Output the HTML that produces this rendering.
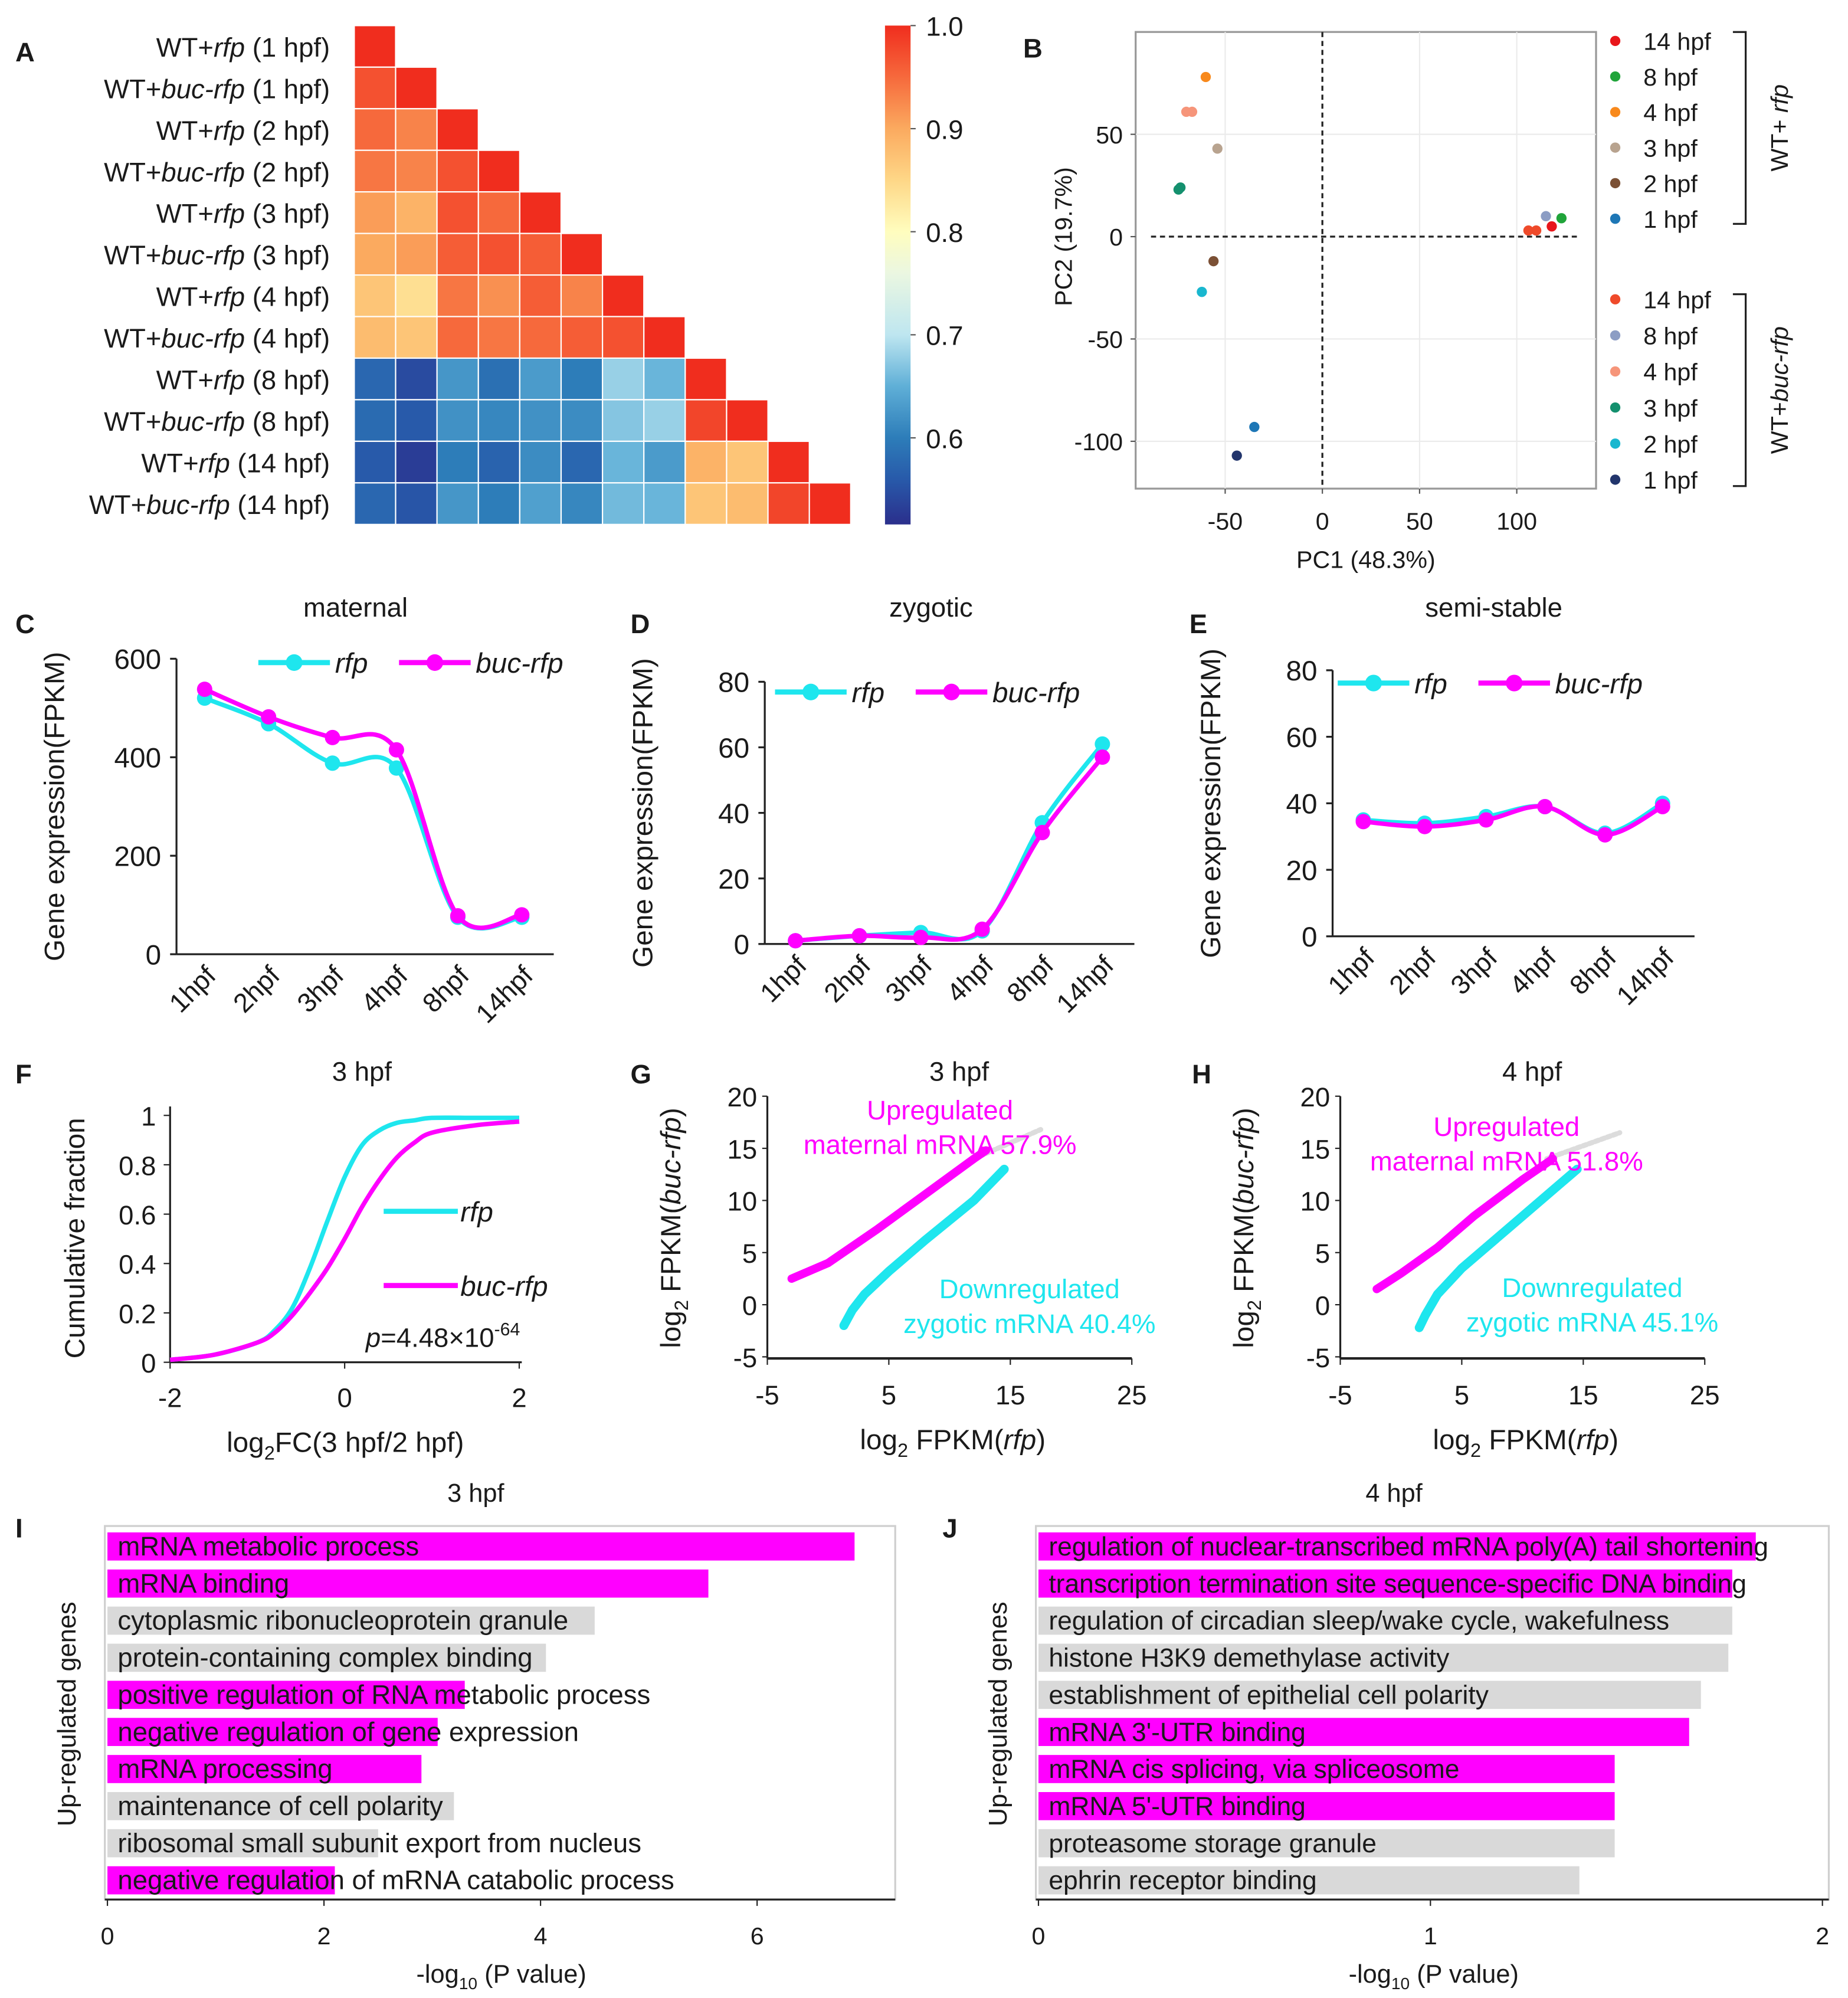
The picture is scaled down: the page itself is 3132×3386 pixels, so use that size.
<!DOCTYPE html>
<html><head><meta charset="utf-8">
<style>
html,body{margin:0;padding:0;background:#fff;}
svg{display:block;}
text{font-family:"Liberation Sans Narrow","Liberation Sans",sans-serif;fill:#1a1a1a;}
.lbl{font-family:"Liberation Sans",sans-serif;font-weight:bold;font-size:21px;}
.it{font-style:italic;}
</style></head>
<body>
<svg id="fig" width="3132" height="3386" viewBox="0 0 1445 1562" preserveAspectRatio="none" xmlns="http://www.w3.org/2000/svg">
<g id="gA"></g>
<g id="gB"></g>
<g id="gC"></g>
<g id="gD"></g>
<g id="gE"></g>
<g id="gF"></g>
<g id="gG"></g>
<g id="gH"></g>
<g id="gI"></g>
<g id="gJ"></g>
</svg>
<script>
// ---------- data ----------
const heatRows = ["WT+|rfp| (1 hpf)","WT+|buc-rfp| (1 hpf)","WT+|rfp| (2 hpf)","WT+|buc-rfp| (2 hpf)","WT+|rfp| (3 hpf)","WT+|buc-rfp| (3 hpf)","WT+|rfp| (4 hpf)","WT+|buc-rfp| (4 hpf)","WT+|rfp| (8 hpf)","WT+|buc-rfp| (8 hpf)","WT+|rfp| (14 hpf)","WT+|buc-rfp| (14 hpf)"];
const heatVals = [
 [1],
 [0.97,1],
 [0.95,0.93,1],
 [0.94,0.93,0.97,1],
 [0.91,0.89,0.97,0.95,1],
 [0.9,0.91,0.96,0.97,0.96,1],
 [0.87,0.84,0.94,0.92,0.96,0.93,1],
 [0.88,0.87,0.95,0.94,0.95,0.96,0.97,1],
 [0.575,0.545,0.625,0.585,0.63,0.6,0.68,0.655,1],
 [0.58,0.56,0.62,0.61,0.62,0.615,0.67,0.68,0.98,1],
 [0.56,0.53,0.6,0.57,0.615,0.575,0.655,0.63,0.89,0.87,1],
 [0.575,0.555,0.625,0.6,0.635,0.61,0.66,0.655,0.87,0.88,0.98,1]
];
const cbTicks = [1.0,0.9,0.8,0.7,0.6];

const pcaLabels = ["14 hpf","8 hpf","4 hpf","3 hpf","2 hpf","1 hpf"];
const pcaRfpColors = ["#e8161b","#20a43a","#f8891c","#b8a38f","#7b5035","#1e77b6"];
const pcaBucColors = ["#ef4a2a","#8c9dc4","#f6957a","#14906e","#19b7cf","#22356c"];
const pcaRfpX = [118,123,-60,-54,-56,-35];
const pcaRfpY = [5,9,78,43,-12,-93];
const pcaBucX = [106,115,-70,-74,-62,-44];
const pcaBucY = [3,10,61,23,-27,-107];
const pcaBucX2 = [110,null,-67,-73,null,null];
const pcaBucY2 = [3,null,61,24,null,null];

const timeCats = ["1hpf","2hpf","3hpf","4hpf","8hpf","14hpf"];
const matRfp = [520,468,388,378,75,75];
const matBuc = [538,482,440,415,78,80];
const zygRfp = [1,2.5,3.5,4,37,61];
const zygBuc = [1,2.5,2,4.5,34,57];
const semRfp = [35,34,36,39,31,40];
const semBuc = [34.5,33,35,39,30.5,39];

const cdfX = [-2,-1.5,-1,-0.8,-0.6,-0.4,-0.2,0,0.2,0.4,0.6,0.8,1,1.5,2];
const cdfRfp = [0.01,0.03,0.08,0.13,0.22,0.38,0.57,0.75,0.88,0.94,0.97,0.98,0.99,0.99,0.99];
const cdfBuc = [0.01,0.03,0.08,0.12,0.19,0.28,0.38,0.5,0.63,0.74,0.83,0.89,0.93,0.96,0.975];

const gMagX=[-3,0,4,8,12,13], gMagY=[2.5,4,7.2,10.6,14,14.8];
const gCyaX=[1.3,2,3,5,8,12,14.5], gCyaY=[-2,-0.5,1,3.2,6.2,10,13];
const gGrayX=[12,17.5], gGrayY=[14,16.8];
const hMagX=[-2,0,3,6,10,12.5], hMagY=[1.5,3,5.5,8.5,12,14];
const hCyaX=[1.5,2,3,5,9,13,14.5], hCyaY=[-2.2,-1,1,3.5,7.5,11.5,13];
const hGrayX=[12,18], hGrayY=[14,16.5];

const goI = ["mRNA  metabolic  process","mRNA  binding","cytoplasmic  ribonucleoprotein  granule","protein-containing  complex  binding","positive  regulation  of RNA  metabolic  process","negative  regulation  of gene  expression","mRNA  processing","maintenance  of cell polarity","ribosomal  small  subunit  export  from nucleus","negative  regulation  of mRNA  catabolic  process"];
const goIVals = [6.9,5.55,4.5,4.05,3.3,3.05,2.9,3.2,2.5,2.1];
const goIUp = [1,1,0,0,1,1,1,0,0,1];
const goJ = ["regulation  of nuclear-transcribed  mRNA  poly(A) tail shortening","transcription  termination  site  sequence-specific  DNA  binding","regulation  of circadian  sleep/wake  cycle, wakefulness","histone  H3K9  demethylase  activity","establishment  of epithelial  cell polarity","mRNA  3'-UTR  binding","mRNA  cis splicing, via spliceosome","mRNA  5'-UTR  binding","proteasome  storage  granule","ephrin  receptor  binding"];
const goJVals = [1.83,1.77,1.77,1.76,1.69,1.66,1.47,1.47,1.47,1.38];
const goJUp = [1,1,0,0,0,1,1,1,0,0];

// ---------- helpers ----------
const NS="http://www.w3.org/2000/svg";
function mk(tag,attrs,parent){const e=document.createElementNS(NS,tag);for(const k in attrs)e.setAttribute(k,attrs[k]);parent.appendChild(e);return e;}
function tx(parent,x,y,s,size,anchor,extra){const e=mk('text',Object.assign({x:x,y:y,'font-size':size,'text-anchor':anchor||'start'},extra||{}),parent);e.textContent=s;return e;}
function mixed(parent,x,y,str,size,anchor){
  const e=mk('text',{x:x,y:y,'font-size':size,'text-anchor':anchor||'start'},parent);
  str.split('|').forEach((p,i)=>{const t=mk('tspan',i%2?{'font-style':'italic'}:{},e);t.textContent=p;});
  return e;}
function smooth(pts){let d=`M${pts[0][0]},${pts[0][1]}`;for(let i=0;i<pts.length-1;i++){const p0=pts[i-1]||pts[i],p1=pts[i],p2=pts[i+1],p3=pts[i+2]||p2;const c1=[p1[0]+(p2[0]-p0[0])/6,p1[1]+(p2[1]-p0[1])/6],c2=[p2[0]-(p3[0]-p1[0])/6,p2[1]-(p3[1]-p1[1])/6];d+=`C${c1[0]},${c1[1]} ${c2[0]},${c2[1]} ${p2[0]},${p2[1]}`;}return d;}
function lin(d0,d1,r0,r1){return v=>r0+(v-d0)*(r1-r0)/(d1-d0);}
function panelLabel(s,x,y){const e=tx(document.getElementById('fig'),x,y,s,21,'start',{class:'lbl'});

}
const MAG="#ff00ff", CYA="#1ee6ee";

// ---------- color map ----------
const cmStops=[[0.516,[43,47,140]],[0.56,[40,90,170]],[0.6,[45,125,185]],[0.65,[95,175,215]],[0.7,[190,230,240]],[0.76,[235,247,225]],[0.8,[255,253,190]],[0.85,[254,215,135]],[0.9,[251,170,95]],[0.95,[246,105,60]],[1.0,[240,45,30]]];
function cmap(v){for(let i=0;i<cmStops.length-1;i++){const a=cmStops[i],b=cmStops[i+1];if(v<=b[0]){const t=Math.max(0,(v-a[0])/(b[0]-a[0]));return 'rgb('+a[1].map((c,j)=>Math.round(c+t*(b[1][j]-c))).join(',')+')';}}return 'rgb(240,45,30)';}

// ---------- Panel A ----------
(function(){
 const g=document.getElementById('gA');const x0=277,y0=20,cw=32.35,ch=32.5;
 heatRows.forEach((r,i)=>{
  const t=mixed(g,258,y0+ch*i+ch/2+8,r,21,'end');
  
  
  heatVals[i].forEach((v,j)=>{
   const c=mk('rect',{x:x0+cw*j,y:y0+ch*i,width:cw,height:ch,fill:cmap(v),stroke:'#fff','stroke-width':1},g);
   
   
  });
 });
 const defs=mk('defs',{},g);const lg=mk('linearGradient',{id:'cbg',x1:0,y1:1,x2:0,y2:0},defs);
 cmStops.forEach(s=>mk('stop',{offset:((s[0]-0.516)/(1-0.516)).toFixed(3),'stop-color':'rgb('+s[1].join(',')+')'},lg));
 const cb=mk('rect',{x:692,y:20,width:20,height:390,fill:'url(#cbg)'},g);
 
 
 const cy=lin(0.516,1,410,20);
 cbTicks.forEach(v=>{
  mk('line',{x1:712,x2:716,y1:cy(v),y2:cy(v),stroke:'#555'},g);
  const t=tx(g,724,cy(v)+8,v.toFixed(1),21);
  
  
 });
})();
panelLabel('A',12,48);

// ---------- Panel B ----------
(function(){
 const g=document.getElementById('gB');const X=lin(0,50,1034,1110),Y=lin(0,50,185,105);
 const fr=mk('rect',{x:888,y:25,width:360,height:357,fill:'#fff',stroke:'#999','stroke-width':1.5},g);
 
 
 [-50,50,100].forEach(v=>mk('line',{x1:X(v),x2:X(v),y1:25,y2:382,stroke:'#ebebeb'},g));
 [50,-50,-100].forEach(v=>mk('line',{x1:888,x2:1248,y1:Y(v),y2:Y(v),stroke:'#ebebeb'},g));
 mk('line',{x1:X(0),x2:X(0),y1:25,y2:382,stroke:'#222','stroke-dasharray':'4,3','stroke-width':1.5},g);
 mk('line',{x1:900,x2:1236,y1:Y(0),y2:Y(0),stroke:'#222','stroke-dasharray':'4,3','stroke-width':1.5},g);
 [-50,0,50,100].forEach(v=>{mk('line',{x1:X(v),x2:X(v),y1:382,y2:386,stroke:'#555'},g);
  const t=tx(g,X(v),414,String(v),19,'middle');
  
  });
 [50,0,-50,-100].forEach(v=>{mk('line',{x1:884,x2:888,y1:Y(v),y2:Y(v),stroke:'#555'},g);
  const t=tx(g,878,Y(v)+7,String(v),19,'end');
  
  });
 const xt=tx(g,1068,444,'PC1 (48.3%)',19,'middle');
 
 
 const yt=tx(g,0,0,'PC2 (19.7%)',19,'middle',{transform:'translate(838,185) rotate(-90)'});
 
 
 pcaLabels.forEach((l,i)=>{
  const p=mk('circle',{cx:X(pcaRfpX[i]),cy:Y(pcaRfpY[i]),r:4,fill:pcaRfpColors[i]},g);
  
  
  const q=mk('circle',{cx:X(pcaBucX[i]),cy:Y(pcaBucY[i]),r:4,fill:pcaBucColors[i]},g);
  
  
  if(pcaBucX2[i]!==null){const r=mk('circle',{cx:X(pcaBucX2[i]),cy:Y(pcaBucY2[i]),r:4,fill:pcaBucColors[i]},g);
   
   }
  const yl=32+i*27.8, yl2=234+i*28.2;
  const d1=mk('circle',{cx:1263,cy:yl,r:4,fill:pcaRfpColors[i]},g);
  
  
  const t1=tx(g,1285,yl+7,l,19);
  
  
  const d2=mk('circle',{cx:1263,cy:yl2,r:4,fill:pcaBucColors[i]},g);
  
  
  const t2=tx(g,1285,yl2+7,l,19);
  
  
 });
 mk('path',{d:'M1355,25 H1365 V175 H1355',fill:'none',stroke:'#222','stroke-width':1.5},g);
 mk('path',{d:'M1355,230 H1365 V380 H1355',fill:'none',stroke:'#222','stroke-width':1.5},g);
 const b1=mixed(g,0,0,'WT+ |rfp|',19,'middle');b1.setAttribute('transform','translate(1398,100) rotate(-90)');
 
 
 const b2=mixed(g,0,0,'WT+|buc-rfp|',19,'middle');b2.setAttribute('transform','translate(1398,305) rotate(-90)');
 
 
})();
panelLabel('B',800,45);

// ---------- line panels C D E ----------
function linePanel(g,title,titleX,axX,yTop,yBot,ymax,yticks,catX,rfp,buc,legY,legX){
 const Y=lin(0,ymax,yBot,yTop);
 const tt=tx(g,titleX,482,title,21,'middle');
 
 
 mk('line',{x1:axX,x2:axX,y1:yTop,y2:yBot,stroke:'#222','stroke-width':1.5},g);
 mk('line',{x1:axX,x2:catX[catX.length-1]+25,y1:yBot,y2:yBot,stroke:'#222','stroke-width':1.5},g);
 yticks.forEach(v=>{mk('line',{x1:axX-5,x2:axX,y1:Y(v),y2:Y(v),stroke:'#222','stroke-width':1.5},g);
  const t=tx(g,axX-12,Y(v)+8,String(v),22,'end');
  
  });
 timeCats.forEach((c,i)=>{const t=tx(g,0,0,c,21,'end',{transform:`translate(${catX[i]+10},${yBot+18}) rotate(-45)`});
  
  });
 const yt=tx(g,0,0,'Gene expression(FPKM)',22,'middle',{transform:`translate(${axX-88},${(yTop+yBot)/2}) rotate(-90)`});
 
 
 [[rfp,CYA,'rfp'],[buc,MAG,'buc-rfp']].forEach(([arr,col,nm])=>{
  const pts=arr.map((v,i)=>[catX[i],Y(v)]);
  const l=mk('path',{d:smooth(pts),fill:'none',stroke:col,'stroke-width':3.5},g);
  
  
  pts.forEach(p=>{const c=mk('circle',{cx:p[0],cy:p[1],r:6,fill:col},g);
   
   });
 });
 [[CYA,'rfp',legX[0]],[MAG,'buc-rfp',legX[1]]].forEach(([col,nm,lx])=>{
  mk('line',{x1:lx,x2:lx+56,y1:legY,y2:legY,stroke:col,'stroke-width':4},g);
  const c=mk('circle',{cx:lx+28,cy:legY,r:6.5,fill:col},g);
  
  
  const t=tx(g,lx+60,legY+8,nm,22,'start',{'font-style':'italic'});
  
  
 });
}
linePanel(document.getElementById('gC'),'maternal',278,138,515,746,600,[0,200,400,600],[160,210,260,310,358,408],matRfp,matBuc,518,[202,312]);
linePanel(document.getElementById('gD'),'zygotic',728,598,533,738,80,[0,20,40,60,80],[622,672,720,768,815,862],zygRfp,zygBuc,541,[606,716]);
linePanel(document.getElementById('gE'),'semi-stable',1168,1042,524,732,80,[0,20,40,60,80],[1066,1114,1162,1208,1255,1300],semRfp,semBuc,534,[1046,1156]);
panelLabel('C',12,495);panelLabel('D',493,495);panelLabel('E',930,495);

// ---------- Panel F ----------
(function(){
 const g=document.getElementById('gF');const X=lin(-2,2,133,406),Y=lin(0,1,1065,872);
 const tt=tx(g,283,845,'3 hpf',21,'middle');
 
 
 mk('line',{x1:133,x2:133,y1:865,y2:1065,stroke:'#222','stroke-width':1.5},g);
 mk('line',{x1:133,x2:408,y1:1065,y2:1065,stroke:'#222','stroke-width':1.5},g);
 [0,0.2,0.4,0.6,0.8,1].forEach(v=>{mk('line',{x1:128,x2:133,y1:Y(v),y2:Y(v),stroke:'#222'},g);
  const t=tx(g,122,Y(v)+8,String(v),21,'end');
  
  });
 [-2,0,2].forEach(v=>{mk('line',{x1:X(v),x2:X(v),y1:1065,y2:1070,stroke:'#222'},g);
  const t=tx(g,X(v),1100,String(v),21,'middle');
  
  });
 const yt=tx(g,0,0,'Cumulative fraction',22,'middle',{transform:'translate(66,968) rotate(-90)'});
 
 
 const xt=mk('text',{x:270,y:1135,'font-size':22,'text-anchor':'middle'},g);
 xt.innerHTML='log<tspan font-size="15" dy="6">2</tspan><tspan dy="-6">FC(3 hpf/2 hpf)</tspan>';
 
 
 [[cdfRfp,CYA,'rfp'],[cdfBuc,MAG,'buc-rfp']].forEach(([arr,col,nm])=>{
  const l=mk('path',{d:smooth(cdfX.map((x,i)=>[X(x),Y(arr[i])])),fill:'none',stroke:col,'stroke-width':3.5},g);
  
  
 });
 [[CYA,'rfp',947],[MAG,'buc-rfp',1005]].forEach(([col,nm,ly])=>{
  mk('line',{x1:300,x2:358,y1:ly,y2:ly,stroke:col,'stroke-width':4},g);
  const t=tx(g,360,ly+8,nm,22,'start',{'font-style':'italic'});
  
  });
 const p=mk('text',{x:286,y:1053,'font-size':21},g);
 p.innerHTML='<tspan font-style="italic">p</tspan>=4.48×10<tspan font-size="14" dy="-9">-64</tspan>';
 
 
})();
panelLabel('F',12,847);

// ---------- Panels G H ----------
function scatterPanel(g,x0,title,mX,mY,cX,cY,grX,grY,upTxt,downTxt,upPos,downPos){
 const X=lin(-5,25,x0,x0+285),Y=lin(0,20,1020,857);
 const tt=tx(g,x0+150,845,title,21,'middle');
 
 
 mk('line',{x1:x0,x2:x0,y1:857,y2:1062,stroke:'#222','stroke-width':1.5},g);
 mk('line',{x1:x0,x2:x0+285,y1:1062,y2:1062,stroke:'#222','stroke-width':2},g);
 [20,15,10,5,0,-5].forEach(v=>{mk('line',{x1:x0-4,x2:x0,y1:Y(v),y2:Y(v),stroke:'#222'},g);
  const t=tx(g,x0-8,Y(v)+8,String(v),21,'end');
  
  });
 [-5,5,15,25].forEach(v=>{mk('line',{x1:X(v),x2:X(v),y1:1062,y2:1067,stroke:'#222'},g);
  const t=tx(g,X(v),1098,String(v),21,'middle');
  
  });
 const xt=mk('text',{x:x0+145,y:1133,'font-size':22,'text-anchor':'middle'},g);
 xt.innerHTML='log<tspan font-size="15" dy="6">2</tspan><tspan dy="-6"> FPKM(</tspan><tspan font-style="italic">rfp</tspan>)';
 
 
 const yt=mk('text',{'font-size':22,'text-anchor':'middle',transform:`translate(${x0-68},960) rotate(-90)`},g);
 yt.innerHTML='log<tspan font-size="15" dy="6">2</tspan><tspan dy="-6"> FPKM(</tspan><tspan font-style="italic">buc-rfp</tspan>)';
 
 
 const gr=mk('polyline',{points:grX.map((x,i)=>X(x)+','+Y(grY[i])).join(' '),fill:'none',stroke:'#dcdcdc','stroke-width':4,'stroke-linecap':'round','stroke-dasharray':'3,2'},g);
 
 
 const mb=mk('polyline',{points:mX.map((x,i)=>X(x)+','+Y(mY[i])).join(' '),fill:'none',stroke:MAG,'stroke-width':6.5,'stroke-linecap':'round'},g);
 
 
 const cb=mk('polyline',{points:cX.map((x,i)=>X(x)+','+Y(cY[i])).join(' '),fill:'none',stroke:CYA,'stroke-width':7,'stroke-linecap':'round'},g);
 
 
 upTxt.forEach((s,i)=>{const t=tx(g,upPos[0],upPos[1]+i*27,s,21,'middle',{style:'fill:'+MAG});
  
  });
 downTxt.forEach((s,i)=>{const t=tx(g,downPos[0],downPos[1]+i*27,s,21,'middle',{style:'fill:'+CYA});
  
  });
}
scatterPanel(document.getElementById('gG'),600,'3 hpf',gMagX,gMagY,gCyaX,gCyaY,gGrayX,gGrayY,['Upregulated','maternal  mRNA  57.9%'],['Downregulated','zygotic mRNA  40.4%'],[735,875],[805,1015]);
scatterPanel(document.getElementById('gH'),1048,'4 hpf',hMagX,hMagY,hCyaX,hCyaY,hGrayX,hGrayY,['Upregulated','maternal  mRNA  51.8%'],['Downregulated','zygotic mRNA  45.1%'],[1178,888],[1245,1014]);
panelLabel('G',493,847);panelLabel('H',932,847);

// ---------- Panels I J ----------
function goPanel(g,x0,x1,scaleEnd,ticks,title,titleX,names,vals,ups,fs){
 const X=lin(0,scaleEnd[0],x0,scaleEnd[1]);
 const tt=tx(g,titleX,1174,title,20,'middle');
 
 
 mk('rect',{x:x0-2,y:1193,width:x1-x0+2,height:292,fill:'none',stroke:'#cfcfcf','stroke-width':1.5},g);
 mk('line',{x1:x0-2,x2:x1,y1:1485,y2:1485,stroke:'#222','stroke-width':1.5},g);
 names.forEach((n,i)=>{const yc=1209+i*29;
  const b=mk('rect',{x:x0,y:yc-11,width:X(vals[i])-x0,height:22,fill:ups[i]?MAG:'#d9d9d9'},g);
  
  
  const t=tx(g,x0+8,yc+7,n,fs);
  
  });
 ticks.forEach(v=>{mk('line',{x1:X(v),x2:X(v),y1:1485,y2:1490,stroke:'#222'},g);
  const t=tx(g,X(v),1520,String(v),19,'middle');
  
  });
 const xt=mk('text',{x:(x0+x1)/2,y:1550,'font-size':20,'text-anchor':'middle'},g);
 xt.innerHTML='-log<tspan font-size="13" dy="5">10</tspan><tspan dy="-5"> (P value)</tspan>';
 
 
 const yt=tx(g,0,0,'Up-regulated  genes',20,'middle',{transform:`translate(${x0-25},1340) rotate(-90)`});
 
 
}
goPanel(document.getElementById('gI'),84,700,[6,592],[0,2,4,6],'3 hpf',372,goI,goIVals,goIUp,21);
goPanel(document.getElementById('gJ'),812,1430,[2,1425],[0,1,2],'4 hpf',1090,goJ,goJVals,goJUp,20.5);
panelLabel('I',12,1202);panelLabel('J',737,1202);
</script>
</body></html>
